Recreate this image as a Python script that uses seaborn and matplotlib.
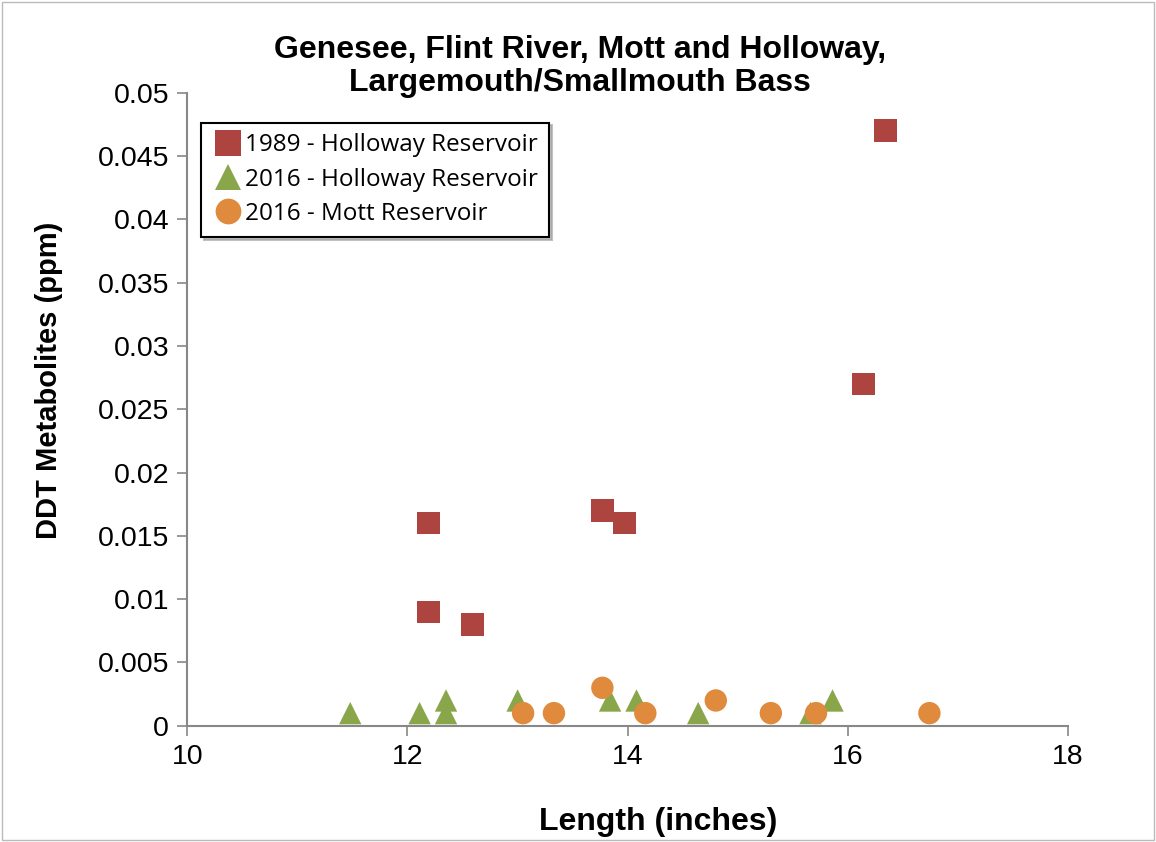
import pandas as pd
import matplotlib.pyplot as plt
import seaborn as sns

# data
holloway89_len = [12.19, 12.19, 12.59, 13.77, 13.97, 16.14, 16.34]
holloway89_ddt = [0.016, 0.009, 0.008, 0.017, 0.016, 0.027, 0.047]

holloway16_len = [11.48, 12.11, 12.35, 12.35, 13.0, 13.84, 14.08, 14.64, 15.66, 15.86]
holloway16_ddt = [0.001, 0.001, 0.002, 0.001, 0.002, 0.002, 0.002, 0.001, 0.001, 0.002]

mott16_len = [13.05, 13.33, 13.77, 14.16, 14.8, 15.3, 15.71, 16.74]
mott16_ddt = [0.001, 0.001, 0.003, 0.001, 0.002, 0.001, 0.001, 0.001]

series = ['1989 - Holloway Reservoir', '2016 - Holloway Reservoir', '2016 - Mott Reservoir']

df = pd.concat([
    pd.DataFrame({'length': holloway89_len, 'ddt': holloway89_ddt, 'series': series[0]}),
    pd.DataFrame({'length': holloway16_len, 'ddt': holloway16_ddt, 'series': series[1]}),
    pd.DataFrame({'length': mott16_len, 'ddt': mott16_ddt, 'series': series[2]}),
])

sns.set_style('white')
plt.rcParams['font.family'] = ['Liberation Sans', 'DejaVu Sans']
plt.rcParams['text.color'] = 'black'
plt.rcParams['axes.labelcolor'] = 'black'
plt.rcParams['xtick.color'] = 'black'
plt.rcParams['ytick.color'] = 'black'

fig = plt.figure(figsize=(11.56, 8.42), dpi=100)
ax = fig.add_axes([0.162, 0.138, 0.762, 0.752])

palette = {series[0]: '#AE4440', series[1]: '#8AA64B', series[2]: '#DF8A3D'}
markers = {series[0]: 's', series[1]: '^', series[2]: 'o'}

sns.scatterplot(data=df, x='length', y='ddt', hue='series', style='series',
                palette=palette, markers=markers, s=260, linewidth=0, ax=ax)

ax.set_xlim(10, 18)
ax.set_ylim(0, 0.05)
ax.set_xticks([10, 12, 14, 16, 18])
ax.set_yticks([i * 0.005 for i in range(11)])
ax.set_yticklabels(['0', '0.005', '0.01', '0.015', '0.02', '0.025', '0.03',
                    '0.035', '0.04', '0.045', '0.05'])
ax.tick_params(labelsize=20.5, length=7, width=1.2, direction='out',
               left=True, bottom=True, pad=6)
ax.tick_params(color='#888888')
for side in ['top', 'right']:
    ax.spines[side].set_visible(False)
for side in ['left', 'bottom']:
    ax.spines[side].set_color('#888888')
    ax.spines[side].set_linewidth(1.5)

# Excel-style label placement (not centred on the axes)
ax.set_xlabel('Length (inches)', fontsize=23, fontweight='bold')
ax.set_ylabel('DDT Metabolites (ppm)', fontsize=21, fontweight='bold')
ax.xaxis.set_label_coords(0.535, -0.128)
ax.yaxis.set_label_coords(-0.141, 0.545)

fig.text(0.502, 0.958, 'Genesee, Flint River, Mott and Holloway,\nLargemouth/Smallmouth Bass',
         ha='center', va='top', fontsize=23, fontweight='bold', linespacing=1.1)

leg = ax.legend(loc='upper left', bbox_to_anchor=(0.002, 0.972), frameon=True,
                fancybox=False, shadow={'color': '#999999', 'alpha': 0.6},
                prop={'family': 'Open Sans', 'size': 17.5}, markerscale=1.15,
                handletextpad=0.05, borderpad=0.45, labelspacing=0.42, handlelength=1.3)
leg.get_frame().set_edgecolor('black')
leg.get_frame().set_linewidth(1.5)

fig.patches.append(plt.Rectangle((0.002, 0.002), 0.996, 0.996, transform=fig.transFigure,
                                 fill=False, edgecolor='#BBBBBB', linewidth=1))

fig.savefig('out.png', dpi=100)
